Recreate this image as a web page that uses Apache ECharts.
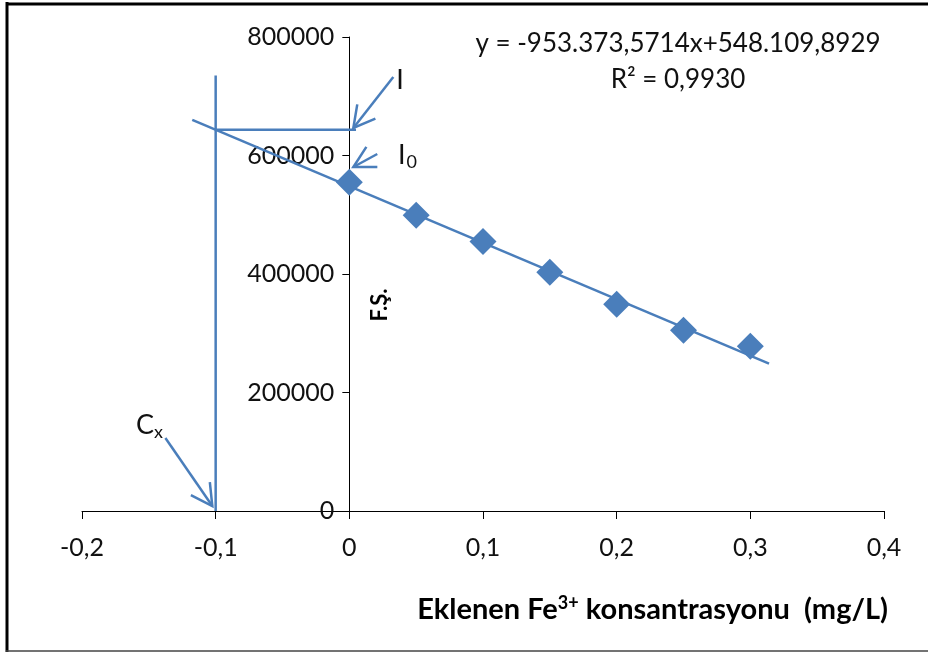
<!DOCTYPE html>
<html>
<head>
<meta charset="utf-8">
<style>
  html, body { margin: 0; padding: 0; background: #fff; }
  #chart { width: 928px; height: 653px; }
</style>
<script src="https://cdn.jsdelivr.net/npm/echarts@6/dist/echarts.min.js"></script>
</head>
<body>
<div id="chart"></div>
<script>
// Standard-addition calibration: added Fe3+ concentration vs. fluorescence signal
const addedFe = [0, 0.05, 0.1, 0.15, 0.2, 0.25, 0.3];
const signal = [555000, 499000, 455000, 403000, 349000, 305000, 278000];

// Linear fit reported on the chart
const slope = -953373.5714;
const intercept = 548109.8929;
const fitRange = [-0.1175, 0.314];

// Axis ticks
const xTicks = [-0.2, -0.1, 0, 0.1, 0.2, 0.3, 0.4];
const yTicks = [0, 200000, 400000, 600000, 800000];

// Extrapolation guides: x = Cx and signal I read from the fit at Cx
const cx = -0.1;
const guideTop = 735000;
const guideRight = 0.005;

// Arrows [tailX, tailY, headX, headY] in data units
const arrowI = [0.0329, 732500, 0.003, 646400];
const arrowI0 = [0.0209, 602500, 0.003, 580600];
const arrowCx = [-0.1376, 123200, -0.1025, 8400];

const fit = x => slope * x + intercept;
const blue = '#4a7ebb';
const font = 'Lato, "Open Sans", sans-serif';
const textColor = '#111';

const gridLeft = 82, gridRight = 44;
const chartWidth = 928;
// the value axis sits on x = 0, inside the plot
const yAxisShift = (chartWidth - gridLeft - gridRight) * (0 - xTicks[0]) / (xTicks[xTicks.length - 1] - xTicks[0]);

const chart = echarts.init(document.getElementById('chart'));

const comma = v => String(Math.round(v * 10) / 10).replace('.', ',');

chart.setOption({
  animation: false,
  backgroundColor: '#fff',
  grid: { left: gridLeft, right: gridRight, top: 37, bottom: 142, outerBoundsMode: 'none', containLabel: false },
  xAxis: {
    type: 'value',
    min: xTicks[0],
    max: xTicks[xTicks.length - 1],
    interval: 0.1,
    axisLine: { show: true, onZero: false, lineStyle: { color: '#000', width: 1 } },
    axisTick: { show: true, inside: false, length: 8, lineStyle: { color: '#000' } },
    splitLine: { show: false },
    axisLabel: {
      color: textColor, fontFamily: font, fontSize: 25, margin: 24,
      formatter: v => comma(v)
    }
  },
  yAxis: {
    type: 'value',
    position: 'left',
    offset: -yAxisShift,
    min: yTicks[0],
    max: yTicks[yTicks.length - 1],
    interval: 200000,
    axisLine: { show: true, onZero: false, lineStyle: { color: '#000', width: 1 } },
    axisTick: { show: true, inside: false, length: 7, lineStyle: { color: '#000' } },
    splitLine: { show: false },
    axisLabel: {
      color: textColor, fontFamily: font, fontSize: 25, margin: 15,
      formatter: v => String(v)
    }
  },
  series: [
    {
      name: 'guideV',
      type: 'line',
      data: [[cx, 0], [cx, guideTop]],
      symbol: 'none',
      lineStyle: { color: blue, width: 2.5 },
      silent: true,
      z: 2
    },
    {
      name: 'guideH',
      type: 'line',
      data: [[cx, fit(cx)], [guideRight, fit(cx)]],
      symbol: 'none',
      lineStyle: { color: blue, width: 2.5 },
      silent: true,
      z: 2
    },
    {
      name: 'fit',
      type: 'line',
      data: fitRange.map(x => [x, fit(x)]),
      symbol: 'none',
      lineStyle: { color: blue, width: 2.5 },
      silent: true,
      z: 3
    },
    {
      name: 'F.Ş.',
      type: 'scatter',
      data: addedFe.map((x, i) => [x, signal[i]]),
      symbol: 'diamond',
      symbolSize: [27, 27],
      itemStyle: { color: blue, opacity: 1 },
      z: 4
    },
    {
      name: 'arrows',
      type: 'custom',
      data: [arrowI, arrowI0, arrowCx],
      encode: { x: [0, 2], y: [1, 3] },
      renderItem: (params, api) => {
        const t = api.coord([api.value(0), api.value(1)]);
        const h = api.coord([api.value(2), api.value(3)]);
        const ang = Math.atan2(t[1] - h[1], t[0] - h[0]);
        const len = 24, spread = 0.5;
        const p1 = [h[0] + len * Math.cos(ang + spread), h[1] + len * Math.sin(ang + spread)];
        const p2 = [h[0] + len * Math.cos(ang - spread), h[1] + len * Math.sin(ang - spread)];
        const style = { stroke: blue, lineWidth: 2.5, fill: null };
        return {
          type: 'group',
          children: [
            { type: 'line', shape: { x1: t[0], y1: t[1], x2: h[0], y2: h[1] }, style },
            { type: 'polyline', shape: { points: [p1, h, p2] }, style }
          ]
        };
      },
      silent: true,
      z: 5
    }
  ],
  graphic: [
    // frame
    { type: 'line', shape: { x1: 7, y1: 2, x2: 7, y2: 652 }, style: { stroke: '#000', lineWidth: 3 } },
    { type: 'line', shape: { x1: 6, y1: 4, x2: 928, y2: 4 }, style: { stroke: '#000', lineWidth: 3 } },
    { type: 'line', shape: { x1: 6, y1: 651, x2: 928, y2: 651 }, style: { stroke: '#444', lineWidth: 1.5 } },
    {
      type: 'text',
      style: {
        text: 'y = -953.373,5714x+548.109,8929\nR² = 0,9930',
        x: 678, y: 26, align: 'center', lineHeight: 36,
        fontFamily: font, fontSize: 26, fill: textColor
      }
    },
    {
      type: 'text',
      style: { text: 'I', x: 400, y: 80, align: 'center', verticalAlign: 'middle', fontFamily: font, fontSize: 27, fill: textColor }
    },
    {
      type: 'text',
      style: {
        text: '{m|I}{s|0}', x: 398, y: 155, align: 'left', verticalAlign: 'middle',
        rich: {
          m: { fontFamily: font, fontSize: 27, fill: textColor },
          s: { fontFamily: font, fontSize: 18, fill: textColor, padding: [14, 0, 0, 1] }
        }
      }
    },
    {
      type: 'text',
      style: {
        text: '{m|C}{s|x}', x: 136, y: 425, align: 'left', verticalAlign: 'middle',
        rich: {
          m: { fontFamily: font, fontSize: 27, fill: textColor },
          s: { fontFamily: font, fontSize: 18, fill: textColor, padding: [14, 0, 0, 0] }
        }
      }
    },
    {
      type: 'text',
      rotation: Math.PI / 2,
      x: 380, y: 305,
      style: {
        text: 'F.Ş.', x: 0, y: 0, align: 'center', verticalAlign: 'middle',
        fontFamily: font, fontSize: 22, fontWeight: 'bold', fill: '#000'
      }
    },
    {
      type: 'text',
      style: {
        text: '{b|Eklenen Fe}{sup|3+}{b| konsantrasyonu  (mg/L)}',
        x: 888, y: 610, align: 'right', verticalAlign: 'middle',
        rich: {
          b: { fontFamily: font, fontSize: 29, fontWeight: 'bold', fill: '#000' },
          sup: { fontFamily: font, fontSize: 18, fontWeight: 'bold', fill: '#000', padding: [0, 0, 13, 0] }
        }
      }
    }
  ]
});
</script>
</body>
</html>
